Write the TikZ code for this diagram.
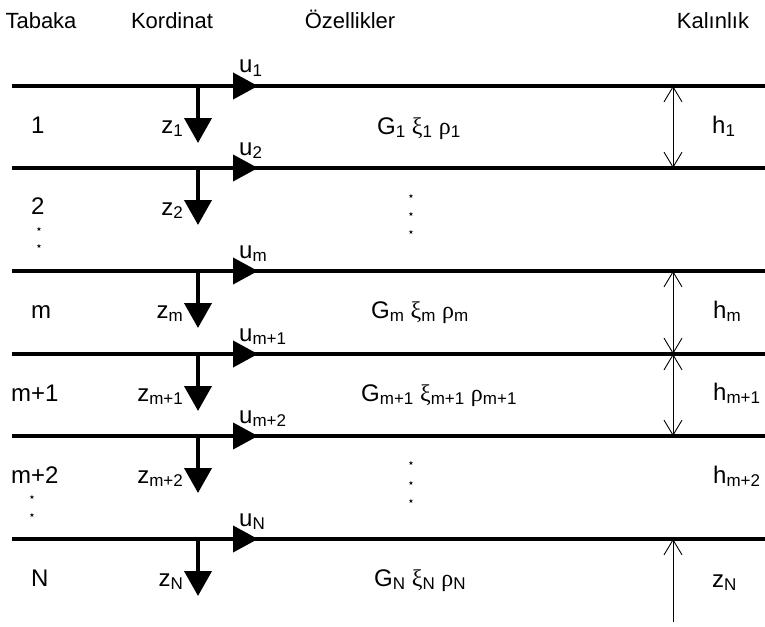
\documentclass[tikz,border=0pt]{standalone}
\usepackage{fontspec}
\setmainfont{Liberation Sans}
\newfontfamily\greekfont{Liberation Serif}
\newfontfamily\symbfont{DejaVu Sans}
\usetikzlibrary{arrows.meta}
% subscript set small and slightly lowered
\newcommand{\lsub}[1]{\raisebox{-3pt}{\fontsize{17}{17}\selectfont #1}}
\newcommand{\gk}[1]{{\greekfont #1}}
\begin{document}
\begin{tikzpicture}[x=1pt,y=-1pt,
  every node/.style={inner sep=0pt,font=\fontsize{24}{24}\selectfont},
  heading/.style={anchor=base,font=\fontsize{22}{22}\selectfont},
  lbl/.style={anchor=base west},
  layerline/.style={line width=4pt},
  zarrow/.style={line width=4pt,-{Triangle[width=27pt,length=25pt]}},
  uarrow/.style={line width=4pt,-{Triangle[width=26pt,length=25pt]}},
  dimarrow/.style={line width=0.9pt,{Straight Barb[length=15pt,width=18pt]}-{Straight Barb[length=15pt,width=18pt]}},
  uparrow/.style={line width=0.9pt,-{Straight Barb[length=15pt,width=18pt]}},
  stardot/.style={font=\symbfont\fontsize{6}{6}\selectfont},
]
\useasboundingbox (0,0) rectangle (765,626);

% column headings
\node[heading] (hTab) at (41,29) {Tabaka};
\node[heading] (hKor) at (172,29) {Kordinat};
\node[heading] (hOze) at (350,29) {Özellikler};
\node[heading] (hKal) at (713,29) {Kalınlık};

% layer boundaries with local axes u (along) and z (down)
\foreach \i/\y/\s in {1/86/1, 2/168/2, 3/271/m, 4/354/m+1, 5/436/m+2, 6/539/N} {
  \coordinate (L\i a) at (12,\y);
  \coordinate (L\i b) at (765,\y);
  \draw[layerline] (L\i a) -- (L\i b);
  \coordinate (U\i a) at (231,\y);
  \coordinate (U\i b) at (258,\y);
  \draw[uarrow] (U\i a) -- (U\i b);
  \coordinate (Z\i a) at (198,\y);
  \coordinate (Z\i b) at (198,\y+57);
  \draw[zarrow] (Z\i a) -- (Z\i b);
  \node[anchor=base west] (u\i) at (239,\y-13) {u\lsub{\s}};
  \node[anchor=base east] (z\i) at (183,\y+47) {z\lsub{\s}};
}

% layer numbers
\node[lbl] (n1) at (31,133) {1};
\node[lbl] (n2) at (31,214) {2};
\node[lbl] (n3) at (31,318) {m};
\node[lbl] (n4) at (11,401) {m+1};
\node[lbl] (n5) at (11,483) {m+2};
\node[lbl] (n6) at (31,586) {N};
\node[stardot] (d1) at (39,229) {★};
\node[stardot] (d2) at (39,246) {★};
\node[stardot] (d3) at (32,497) {★};
\node[stardot] (d4) at (32,515) {★};

% layer properties
\node[lbl] (p1) at (377,134) {G\lsub{1} \gk{ξ}\lsub{1} \gk{ρ}\lsub{1}};
\node[lbl] (p3) at (371,318) {G\lsub{m} \gk{ξ}\lsub{m} \gk{ρ}\lsub{m}};
\node[lbl] (p4) at (361,401) {G\lsub{m+1} \gk{ξ}\lsub{m+1} \gk{ρ}\lsub{m+1}};
\node[lbl] (p6) at (374,586) {G\lsub{N} \gk{ξ}\lsub{N} \gk{ρ}\lsub{N}};
\node[stardot] (e1) at (411,196) {★};
\node[stardot] (e2) at (411,214) {★};
\node[stardot] (e3) at (411,232) {★};
\node[stardot] (e4) at (411,463) {★};
\node[stardot] (e5) at (411,483) {★};
\node[stardot] (e6) at (411,501) {★};

% thicknesses
\coordinate (T1) at (673,86);
\coordinate (T2) at (673,168);
\coordinate (T3) at (673,271);
\coordinate (T4) at (673,354);
\coordinate (T5) at (673,436);
\coordinate (T6) at (673,539);
\coordinate (T7) at (673,622);
\draw[dimarrow] (T1) -- (T2);
\draw[dimarrow] (T3) -- (T4);
\draw[dimarrow] (T4) -- (T5);
\draw[uparrow] (T7) -- (T6);
\node[lbl] (k1) at (712,133) {h\lsub{1}};
\node[lbl] (k3) at (713,318) {h\lsub{m}};
\node[lbl] (k4) at (713,400) {h\lsub{m+1}};
\node[lbl] (k5) at (713,483) {h\lsub{m+2}};
\node[lbl] (k7) at (712,587) {z\lsub{N}};
\end{tikzpicture}
\end{document}
